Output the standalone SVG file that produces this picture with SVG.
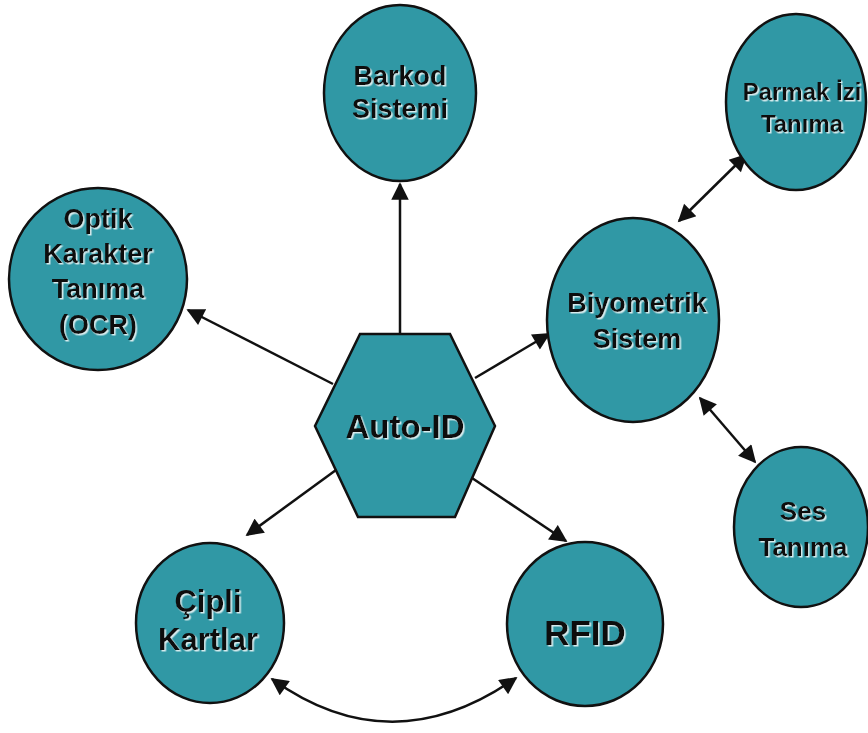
<svg xmlns="http://www.w3.org/2000/svg" width="868" height="733" viewBox="0 0 868 733">
<defs>
<style>
.n{fill:#3098a5;stroke:#111;stroke-width:2.5}
.t{font-family:"Liberation Sans",Arial,sans-serif;font-weight:bold;fill:#111;text-anchor:middle;filter:url(#sh)}
.c{fill:none;stroke:#111;stroke-width:2.5}
</style>
<filter id="sh" x="-10%" y="-10%" width="120%" height="130%">
<feDropShadow dx="1.5" dy="1.5" stdDeviation="0.4" flood-color="#e8f4f5" flood-opacity="0.9"/>
</filter>
<marker id="ah" viewBox="0 0 10 10" refX="9" refY="5" markerWidth="7.5" markerHeight="7" orient="auto-start-reverse" markerUnits="strokeWidth">
<path d="M0,0 L10,5 L0,10 Z" fill="#111"/>
</marker>
</defs>
<g id="connectors">
<line class="c" x1="400" y1="334" x2="400" y2="184" marker-end="url(#ah)"/>
<line class="c" x1="333" y1="384" x2="188" y2="310" marker-end="url(#ah)"/>
<line class="c" x1="475" y1="378" x2="549" y2="334" marker-end="url(#ah)"/>
<line class="c" x1="336" y1="470" x2="247" y2="535" marker-end="url(#ah)"/>
<line class="c" x1="472" y1="478" x2="566" y2="541" marker-end="url(#ah)"/>
<line class="c" x1="679" y1="221" x2="746" y2="155" marker-start="url(#ah)" marker-end="url(#ah)"/>
<line class="c" x1="700" y1="398" x2="755" y2="462" marker-start="url(#ah)" marker-end="url(#ah)"/>
<path class="c" d="M272,679 Q392,765 516,678" marker-start="url(#ah)" marker-end="url(#ah)"/>
</g>
<g id="barkod">
<ellipse class="n" cx="400" cy="93" rx="76" ry="88"/>
<text class="t" x="400" y="85" font-size="27">Barkod</text>
<text class="t" x="400" y="118" font-size="27">Sistemi</text>
</g>
<g id="optik">
<ellipse class="n" cx="98" cy="279" rx="89" ry="91"/>
<text class="t" x="98" y="228" font-size="27">Optik</text>
<text class="t" x="98" y="263" font-size="27">Karakter</text>
<text class="t" x="98" y="298" font-size="27">Tanıma</text>
<text class="t" x="98" y="334" font-size="27">(OCR)</text>
</g>
<g id="biyometrik">
<ellipse class="n" cx="633" cy="320" rx="86" ry="102"/>
<text class="t" x="637" y="312" font-size="27">Biyometrik</text>
<text class="t" x="637" y="348" font-size="27">Sistem</text>
</g>
<g id="parmak">
<ellipse class="n" cx="796" cy="102" rx="70" ry="88"/>
<text class="t" x="802" y="100" font-size="24">Parmak İzi</text>
<text class="t" x="802" y="132" font-size="24">Tanıma</text>
</g>
<g id="ses">
<ellipse class="n" cx="801" cy="527" rx="67" ry="80"/>
<text class="t" x="803" y="520" font-size="26">Ses</text>
<text class="t" x="803" y="556" font-size="26">Tanıma</text>
</g>
<g id="cipli">
<ellipse class="n" cx="210" cy="623" rx="74" ry="80"/>
<text class="t" x="208" y="612" font-size="31">Çipli</text>
<text class="t" x="208" y="650" font-size="31">Kartlar</text>
</g>
<g id="rfid">
<ellipse class="n" cx="585" cy="624" rx="78" ry="82"/>
<text class="t" x="585" y="645" font-size="35">RFID</text>
</g>
<g id="autoid">
<polygon class="n" points="360,334 450,334 495,426 455,517 358,517 315,426"/>
<text class="t" x="405" y="438" font-size="33">Auto-ID</text>
</g>
</svg>
